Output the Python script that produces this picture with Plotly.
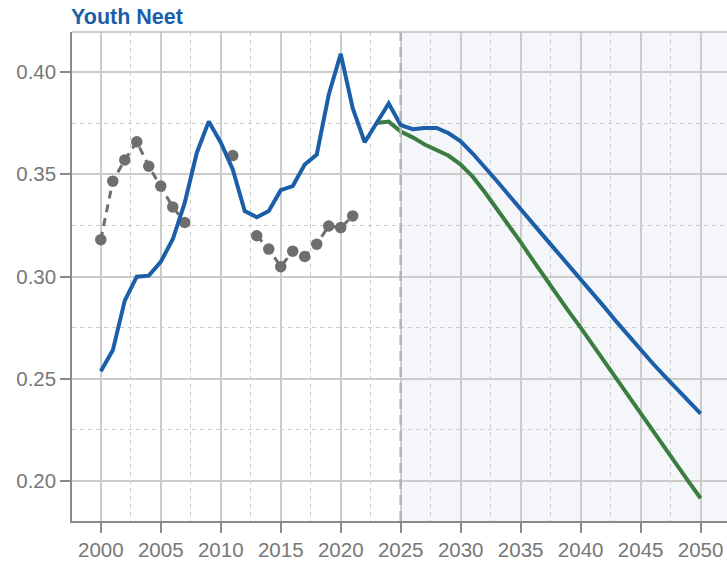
import plotly.graph_objects as go

# Observed series (with gaps for missing years)
obs_years = list(range(2000, 2022))
obs_values = [0.318, 0.3466, 0.357, 0.3658, 0.3539, 0.3442, 0.334, 0.3264,
              None, None, None, 0.3591, None, 0.3199, 0.3134, 0.3048,
              0.3124, 0.3098, 0.3158, 0.3247, 0.3239, 0.3296]

# Baseline series: history and projection
base_years = list(range(2000, 2051))
base_values = [0.2537, 0.2639, 0.2882, 0.2999, 0.3004, 0.3072, 0.3182, 0.3361,
               0.3604, 0.3758, 0.3655, 0.3523, 0.332, 0.329, 0.332, 0.3422,
               0.3442, 0.3547, 0.3596, 0.3888, 0.4088, 0.3823, 0.3656, 0.375,
               0.3846, 0.374, 0.372, 0.3726, 0.3726, 0.37, 0.3661, 0.3601,
               0.3536, 0.3468, 0.3398, 0.3327, 0.3259, 0.3191, 0.3123, 0.3056,
               0.2988, 0.2919, 0.2849, 0.2778, 0.2709, 0.2641, 0.2576, 0.2513,
               0.2451, 0.239, 0.233]

# Alternative projection
alt_years = list(range(2023, 2051))
alt_values = [0.375, 0.3757, 0.3708, 0.368, 0.3645, 0.362, 0.359, 0.3547,
              0.3488, 0.3413, 0.3334, 0.3255, 0.3168, 0.3081, 0.2996, 0.2910,
              0.2830, 0.2750, 0.2666, 0.2581, 0.2497, 0.2411, 0.233, 0.2245,
              0.2163, 0.2078, 0.1997, 0.1916]

x_ticks = [2000, 2005, 2010, 2015, 2020, 2025, 2030, 2035, 2040, 2045, 2050]
y_ticks = [0.20, 0.25, 0.30, 0.35, 0.40]
y_tick_labels = ["0.20", "0.25", "0.30", "0.35", "0.40"]
projection_start = 2025

BLUE = "#1a5fa8"
GREEN = "#3b7d40"
GREY = "#6e6e6e"
GRID = "#cccccc"
AXIS = "#8a8a8a"
TICKFONT = dict(family="Liberation Sans, Arial, sans-serif", size=20.5, color="#787878")

fig = go.Figure()

fig.add_trace(go.Scatter(
    x=obs_years, y=obs_values, mode="lines+markers",
    line=dict(color=GREY, width=3, dash="8px,6px"),
    marker=dict(color=GREY, size=11.5),
    connectgaps=False, showlegend=False, hoverinfo="skip",
))
fig.add_trace(go.Scatter(
    x=alt_years, y=alt_values, mode="lines",
    line=dict(color=GREEN, width=4), showlegend=False, hoverinfo="skip",
))
fig.add_trace(go.Scatter(
    x=base_years, y=base_values, mode="lines",
    line=dict(color=BLUE, width=4), showlegend=False, hoverinfo="skip",
))

# Projection period shading and divider
fig.add_shape(type="rect", xref="x", yref="paper", x0=projection_start, x1=2060,
              y0=0, y1=1, fillcolor="#f4f6f9", line_width=0, layer="below")
fig.add_shape(type="line", xref="x", yref="paper", x0=projection_start, x1=projection_start,
              y0=0, y1=1, line=dict(color="#b4b4b4", width=2.5, dash="10px,6px"))
# Top frame
fig.add_shape(type="line", xref="paper", yref="paper", x0=0, x1=1, y0=1, y1=1,
              line=dict(color="#bdbdbd", width=1.5))

fig.add_annotation(text="<b>Youth Neet</b>", xref="paper", yref="paper", x=0, y=1,
                   xanchor="left", yanchor="bottom", yshift=1, xshift=-3, showarrow=False,
                   font=dict(family="Liberation Sans, Arial, sans-serif", size=21.5, color=BLUE))

fig.update_xaxes(
    range=[1997.6, 2052.2], tickvals=x_ticks, ticks="outside", ticklen=10,
    tickwidth=1.5, tickcolor=AXIS, showline=True, linecolor=AXIS, linewidth=1.5,
    showgrid=True, gridcolor=GRID, gridwidth=2, zeroline=False,
    tickfont=TICKFONT,
    minor=dict(tick0=2000, dtick=2.5, showgrid=True, gridcolor=GRID,
               griddash="4px,4px", gridwidth=1.2),
)
fig.update_yaxes(
    range=[0.1805, 0.4195], tickvals=y_ticks, ticktext=y_tick_labels,
    ticks="outside", ticklen=10, tickwidth=1.5, tickcolor=AXIS,
    showline=True, linecolor=AXIS, linewidth=1.5,
    showgrid=True, gridcolor=GRID, gridwidth=2, zeroline=False,
    tickfont=TICKFONT,
    minor=dict(tick0=0.2, dtick=0.025, showgrid=True, gridcolor=GRID,
               griddash="4px,4px", gridwidth=1.2),
)

fig.update_layout(
    width=727, height=561,
    margin=dict(l=72, r=0, t=32, b=37),
    plot_bgcolor="white", paper_bgcolor="white",
)

fig.write_html("out.html")
